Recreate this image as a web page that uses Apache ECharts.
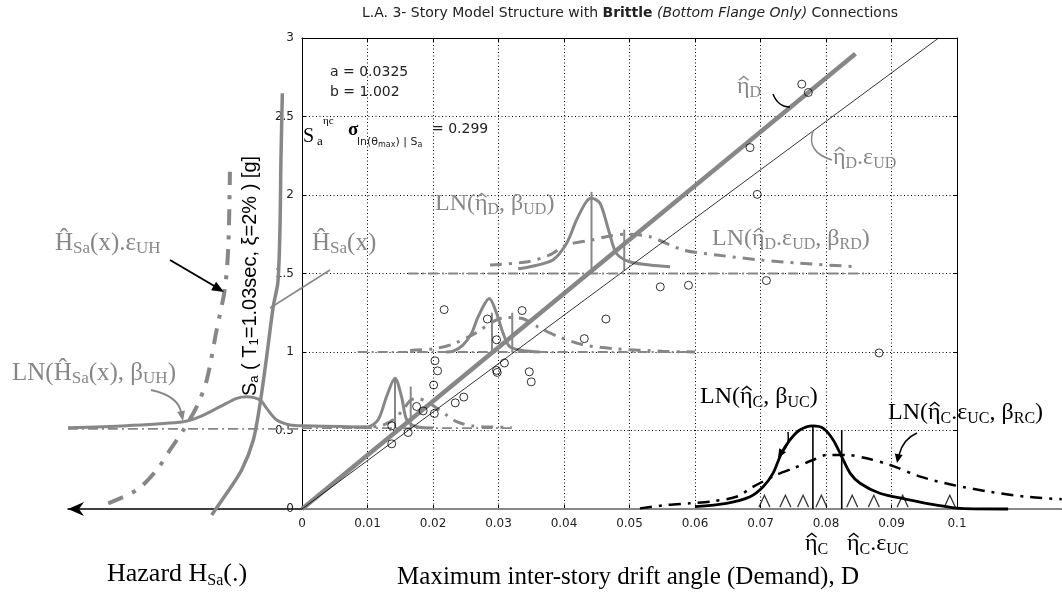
<!DOCTYPE html>
<html>
<head>
<meta charset="utf-8">
<script src="https://cdn.jsdelivr.net/npm/echarts@6/dist/echarts.min.js"></script>
<style>
  html, body { margin: 0; padding: 0; background: #ffffff; }
  #chart { width: 1062px; height: 593px; }
</style>
</head>
<body>
<div id="chart"></div>
<script>
// ---- axis ticks -------------------------------------------------------
const driftTicks = [0, 0.01, 0.02, 0.03, 0.04, 0.05, 0.06, 0.07, 0.08, 0.09, 0.1];
const saTicks = [0, 0.5, 1, 1.5, 2, 2.5, 3];

// ---- demand side: Sa vs. maximum inter-story drift ----------------------
// individual time-history runs [drift, Sa]
const runPoints = [
  [0.0217, 1.27], [0.0283, 1.21], [0.0336, 1.264], [0.0464, 1.21], [0.0297, 1.078],
  [0.0431, 1.085], [0.0203, 0.944], [0.0207, 0.88], [0.0297, 0.883], [0.0298, 0.87],
  [0.0309, 0.93], [0.0347, 0.874], [0.035, 0.81], [0.0201, 0.79], [0.0234, 0.676],
  [0.0247, 0.713], [0.0202, 0.608], [0.0175, 0.653], [0.0185, 0.625], [0.0137, 0.53],
  [0.0162, 0.487], [0.0137, 0.415], [0.0684, 2.302], [0.0695, 2.004], [0.0547, 1.415],
  [0.059, 1.425], [0.0709, 1.455], [0.0763, 2.706], [0.0773, 2.653], [0.0881, 0.994]
];
// median demand line and the line including the epistemic factor
const medianDemand = [[0, 0], [0.0845, 2.9]];
const medianDemandUD = [[0, 0], [0.0972, 3.0]];

// conditional demand distributions at Sa = 0.5, 1.0, 1.5
const baseAt05 = [[0, 0.515], [0.032, 0.515]];
const pdfUD05 = [[0, 0.53], [0.006, 0.525], [0.0099, 0.522], [0.0116, 0.567], [0.0129, 0.715],
  [0.0142, 0.833], [0.0152, 0.715], [0.016, 0.567], [0.0175, 0.524], [0.02, 0.516]];
const pdfRD05 = [[0.008, 0.52], [0.012, 0.53], [0.014, 0.57], [0.0154, 0.63], [0.0165, 0.69],
  [0.0175, 0.705], [0.019, 0.685], [0.0205, 0.645], [0.022, 0.6], [0.0236, 0.556],
  [0.0259, 0.53], [0.029, 0.522], [0.032, 0.52]];

const baseAt10 = [[0.0085, 1.0], [0.06, 1.0]];
const pdfUD10 = [[0.022, 1.0], [0.0231, 1.005], [0.0246, 1.045], [0.0259, 1.12], [0.0269, 1.225],
  [0.0286, 1.34], [0.0297, 1.247], [0.0307, 1.12], [0.0317, 1.034], [0.0337, 1.01], [0.0363, 1.0]];
const pdfRD10 = [[0.0165, 1.01], [0.02, 1.02], [0.023, 1.05], [0.0265, 1.12], [0.029, 1.19],
  [0.031, 1.22], [0.0335, 1.215], [0.036, 1.16], [0.039, 1.1], [0.043, 1.045], [0.048, 1.02],
  [0.055, 1.005], [0.06, 1.0]];

const baseAt15 = [[0.0162, 1.5], [0.0866, 1.5]];
const pdfUD15 = [[0.033, 1.53], [0.0348, 1.543], [0.0383, 1.586], [0.0404, 1.692], [0.0419, 1.84],
  [0.0434, 1.957], [0.0442, 1.979], [0.0455, 1.947], [0.0468, 1.777], [0.048, 1.629],
  [0.05, 1.575], [0.0531, 1.554], [0.0562, 1.543]];
const pdfRD15 = [[0.0287, 1.554], [0.0345, 1.575], [0.0378, 1.618], [0.0404, 1.682], [0.0442, 1.713],
  [0.047, 1.739], [0.0495, 1.75], [0.0531, 1.734], [0.0582, 1.65], [0.0633, 1.618],
  [0.07, 1.586], [0.076, 1.565], [0.0847, 1.543]];

// median marks [drift, Sa from, Sa to]
const demandMedianMarks = [
  [0.0142, 0.515, 0.84], [0.0166, 0.515, 0.78],
  [0.029, 1.0, 1.25], [0.0321, 1.0, 1.25],
  [0.0442, 1.5, 2.02], [0.0492, 1.52, 1.78]
];

// ---- capacity side ----------------------------------------------------
const capacityPoints = [0.0706, 0.0738, 0.0765, 0.0793, 0.084, 0.0873, 0.0917, 0.0989];
const capacityLevel = 0.05;
const pdfUC = [[0.06, 0.015], [0.0648, 0.036], [0.0684, 0.078], [0.0704, 0.142], [0.0719, 0.227],
  [0.0732, 0.355], [0.0745, 0.44], [0.076, 0.503], [0.078, 0.529], [0.0796, 0.514],
  [0.0811, 0.44], [0.0824, 0.333], [0.0837, 0.227], [0.0852, 0.164], [0.0882, 0.1],
  [0.0923, 0.062], [0.0969, 0.025], [0.1005, 0.004], [0.1078, 0]];
const pdfRC = [[0.0516, 0.004], [0.0556, 0.025], [0.0592, 0.036], [0.0623, 0.047], [0.0663, 0.078],
  [0.0689, 0.142], [0.0724, 0.217], [0.075, 0.259], [0.078, 0.312], [0.0801, 0.344],
  [0.0831, 0.344], [0.0862, 0.323], [0.0898, 0.28], [0.0944, 0.206], [0.0994, 0.153],
  [0.105, 0.11], [0.1106, 0.078], [0.116, 0.062]];
const capacityMedianMarks = [[0.078, 0, 0.53], [0.0824, 0, 0.503]];
const driftBaseline = [[0, 0], [0.116, 0]];

// ---- hazard side [hazard (arbitrary units, grows to the left), Sa] -----
const hazardMedian = [[0.386, -0.038], [0.322, 0.1], [0.258, 0.248], [0.208, 0.44], [0.179, 0.673],
  [0.151, 0.97], [0.123, 1.289], [0.103, 1.446], [0.094, 1.798], [0.09, 2.223], [0.084, 2.648]];
const hazardUH = [[0.828, 0.036], [0.706, 0.121], [0.621, 0.248], [0.564, 0.376], [0.507, 0.503],
  [0.45, 0.652], [0.407, 0.822], [0.365, 1.14], [0.33, 1.4], [0.315, 1.67], [0.308, 2.148]];
const hazardPdf = [[1.0, 0.518], [0.75, 0.531], [0.507, 0.556], [0.436, 0.588], [0.35, 0.652],
  [0.279, 0.705], [0.236, 0.715], [0.179, 0.694], [0.151, 0.641], [0.108, 0.567],
  [0.051, 0.535], [0, 0.53]];
const hazardBase = [[1.0, 0.51], [0, 0.51]];

// ---- layout -------------------------------------------------------------
const PLOT = { left: 302, top: 38, width: 655, height: 471 };   // boxed drift/Sa frame
const FULL_W = 760;                                              // drift axis runs on to the page edge
const driftMax = driftTicks[driftTicks.length - 1];
const driftMaxFull = driftMax * FULL_W / PLOT.width;

// ---- styling helpers --------------------------------------------------
const GRAY = '#878787';
const SERIF = '"Liberation Serif", "DejaVu Serif", serif';
const SANS = '"Liberation Sans", Arial, sans-serif';
const WIDE_SANS = '"DejaVu Sans", "Liberation Sans", sans-serif';
const DASHDOT = [12, 7, 3, 7];

function curve(data, color, width, type, z, extra) {
  return Object.assign({
    type: 'line', data, symbol: 'none', showSymbol: false, clip: false, silent: true,
    smooth: 0.3, lineStyle: { color, width, type: type || 'solid' }, z: z || 4,
    animation: false
  }, extra || {});
}
function hazardCurve(data, color, width, type, z) {
  return curve(data, color, width, type, z, { xAxisIndex: 1, yAxisIndex: 1 });
}
function markLines(marks, color, width) {
  return marks.map(m => curve([[m[0], m[1]], [m[0], m[2]]], color, width, 'solid', 5, { smooth: false }));
}

// rich text with subscripts: plain strings are normal, [str] is a subscript
function richLabel(parts, size, sub, color, family) {
  const lh = Math.round(size * 1.2);
  const pad = Math.round(lh / 2 + 0.47 * size - 0.84 * sub);
  const rich = {
    n: { fontFamily: family, fontSize: size, lineHeight: lh, fill: color, verticalAlign: 'middle' },
    s: { fontFamily: family, fontSize: sub, lineHeight: sub, fill: color, verticalAlign: 'top', padding: [pad, 0, 0, 0] }
  };
  const text = parts.map(p => Array.isArray(p) ? '{s|' + p[0] + '}' : '{n|' + p + '}').join('');
  return { text, rich };
}
function textEl(x, y, lbl, extra) {
  return Object.assign({
    type: 'text', x, y, z: 100, silent: true,
    style: { text: lbl.text, rich: lbl.rich, align: 'left', verticalAlign: 'middle' }
  }, extra || {});
}

const measureCtx = document.createElement('canvas').getContext('2d');
function textWidth(str, size, family) {
  measureCtx.font = size + 'px ' + family;
  return measureCtx.measureText(str).width;
}
// serif annotation; {hat: 'η'} marks a glyph that carries a circumflex
function annot(x, y, parts, size, sub, color) {
  const flat = parts.map(p => (p && p.hat) ? p.hat : p);
  const els = [textEl(x, y, richLabel(flat, size, sub, color, SERIF))];
  let cx = x;
  parts.forEach(p => {
    if (Array.isArray(p)) { cx += textWidth(p[0], sub, SERIF); return; }
    const s = p.hat || p;
    const w = textWidth(s, size, SERIF);
    if (p.hat) {
      const mx = cx + w / 2 + size * 0.02;
      const top = y + 0.34 * size - 0.78 * size;
      els.push({ type: 'polyline', z: 100, silent: true,
        shape: { points: [[mx - 0.2 * size, top + 0.16 * size], [mx, top], [mx + 0.2 * size, top + 0.16 * size]] },
        style: { stroke: color, lineWidth: 1.3, fill: null } });
    }
    cx += w;
  });
  return els;
}
function plainText(x, y, text, font, color, align) {
  return { type: 'text', x, y, z: 100, silent: true,
    style: { text, font, fill: color || '#000', align: align || 'left', verticalAlign: 'middle' } };
}
function head(x, y, dx, dy, color, len, half) {
  const l = Math.hypot(dx, dy), ux = dx / l, uy = dy / l;
  len = len || 10; half = half || 4;
  const bx = x - ux * len, by = y - uy * len;
  return { type: 'polygon', z: 100, silent: true,
    shape: { points: [[x, y], [bx - uy * half, by + ux * half], [bx + uy * half, by - ux * half]] },
    style: { fill: color } };
}
function bez(x1, y1, cx, cy, x2, y2, color, w) {
  return { type: 'bezierCurve', z: 100, silent: true,
    shape: { x1, y1, cpx1: cx, cpy1: cy, x2, y2 },
    style: { stroke: color, lineWidth: w || 1.5, fill: null } };
}
function seg(x1, y1, x2, y2, color, w) {
  return { type: 'line', z: 100, silent: true, shape: { x1, y1, x2, y2 },
    style: { stroke: color, lineWidth: w || 1.5 } };
}

const ETA = { hat: 'η' };
const GS = 24, GSUB = 16;     // demand / capacity annotations
const HS = 25, HSUB = 17;     // hazard annotations

const chart = echarts.init(document.getElementById('chart'), null, { renderer: 'canvas' });

const tickFmt = v => (v > driftMax + 1e-9 ? '' : (Math.abs(v) < 1e-9 ? '0' : String(+v.toFixed(2))));
const axisLabelStyle = { fontFamily: WIDE_SANS, fontSize: 12, color: '#222' };
const blackLine = { show: true, onZero: false, lineStyle: { color: '#000', width: 1 } };
const inTicks = { show: true, inside: true, length: 4, lineStyle: { color: '#000' } };
const dotted = { show: true, lineStyle: { color: '#000', width: 1, type: [1, 2.5] } };
const saRange = { min: saTicks[0], max: saTicks[saTicks.length - 1], interval: saTicks[1] - saTicks[0] };
const driftRange = { min: driftTicks[0], max: driftMax, interval: driftTicks[1] - driftTicks[0] };

const option = {
  backgroundColor: '#ffffff',
  animation: false,
  grid: [
    { left: PLOT.left, top: PLOT.top, width: FULL_W, height: PLOT.height },
    { left: 68, top: PLOT.top, width: PLOT.left - 68, height: PLOT.height },
    { left: PLOT.left, top: PLOT.top, width: PLOT.width, height: PLOT.height }
  ],
  xAxis: [
    // drift axis carrying the data, extended to the page edge
    Object.assign({ gridIndex: 0, type: 'value', position: 'bottom' }, driftRange, {
      max: driftMaxFull,
      axisLine: blackLine,
      axisTick: Object.assign({ customValues: driftTicks }, inTicks),
      axisLabel: Object.assign({ margin: 9, formatter: tickFmt, customValues: driftTicks }, axisLabelStyle),
      splitLine: { show: false } }),
    // hazard axis (grows to the left)
    { gridIndex: 1, type: 'value', inverse: true, min: 0, max: 1,
      axisLine: { show: true, onZero: false, lineStyle: { color: '#000', width: 1.5 } },
      axisTick: { show: false }, axisLabel: { show: false }, splitLine: { show: false } },
    // framed box: vertical grid lines and top border
    Object.assign({ gridIndex: 2, type: 'value', position: 'bottom' }, driftRange, {
      axisLine: { show: false }, axisTick: { show: false }, axisLabel: { show: false },
      splitLine: dotted }),
    Object.assign({ gridIndex: 2, type: 'value', position: 'top' }, driftRange, {
      axisLine: blackLine, axisTick: inTicks, axisLabel: { show: false }, splitLine: { show: false } })
  ],
  yAxis: [
    Object.assign({ gridIndex: 0, type: 'value', position: 'left' }, saRange, {
      axisLine: blackLine, axisTick: inTicks,
      axisLabel: Object.assign({ margin: 8, formatter: v => String(v) }, axisLabelStyle),
      splitLine: { show: false } }),
    Object.assign({ gridIndex: 1, type: 'value', show: false }, saRange),
    Object.assign({ gridIndex: 2, type: 'value', position: 'left' }, saRange, {
      axisLine: { show: false }, axisTick: { show: false }, axisLabel: { show: false },
      splitLine: dotted }),
    Object.assign({ gridIndex: 2, type: 'value', position: 'right' }, saRange, {
      axisLine: blackLine, axisTick: inTicks, axisLabel: { show: false }, splitLine: { show: false } })
  ],
  series: [
    // drift axis baseline
    curve(driftBaseline, GRAY, 2, 'solid', 3, { smooth: false }),
    // demand distributions
    curve(baseAt05, GRAY, 1.8, [10, 4, 2, 4], 3, { smooth: false }),
    curve(baseAt10, GRAY, 1.8, [10, 4, 2, 4], 3, { smooth: false }),
    curve(baseAt15, GRAY, 1.8, [10, 4, 2, 4], 3, { smooth: false }),
    curve(pdfRD05, GRAY, 3, DASHDOT, 4),
    curve(pdfRD10, GRAY, 3, DASHDOT, 4),
    curve(pdfRD15, GRAY, 3, DASHDOT, 4),
    curve(pdfUD05, GRAY, 3, 'solid', 4),
    curve(pdfUD10, GRAY, 3, 'solid', 4),
    curve(pdfUD15, GRAY, 3, 'solid', 4),
    ...markLines(demandMedianMarks, GRAY, 2),
    // median demand lines
    curve(medianDemand, GRAY, 4.5, 'solid', 5, { smooth: false }),
    curve(medianDemandUD, '#000', 0.8, 'solid', 5, { smooth: false }),
    // capacity distributions
    curve(pdfRC, '#000', 2.5, DASHDOT, 4),
    curve(pdfUC, '#000', 2.8, 'solid', 4),
    ...markLines(capacityMedianMarks, '#000', 1.6),
    { type: 'scatter', data: capacityPoints.map(x => [x, capacityLevel]), silent: true, z: 6,
      symbol: 'path://M0,12 L5,0 L10,12', symbolSize: [11, 12],
      itemStyle: { color: 'rgba(0,0,0,0)', borderColor: '#000', borderWidth: 1.3 }, clip: false },
    // runs
    { type: 'scatter', data: runPoints, silent: true, z: 6, symbol: 'circle', symbolSize: 8,
      itemStyle: { color: 'rgba(255,255,255,0)', borderColor: '#000', borderWidth: 1 } },
    // hazard side
    hazardCurve(hazardBase, GRAY, 1.8, [10, 4, 2, 4], 3),
    hazardCurve(hazardPdf, GRAY, 3, 'solid', 4),
    hazardCurve(hazardUH, GRAY, 4, [16, 10, 4, 10], 4),
    hazardCurve(hazardMedian, GRAY, 3.5, 'solid', 5)
  ],
  graphic: [
    // title
    { type: 'text', x: 630, y: 13, z: 100, silent: true,
      style: {
        text: '{a|L.A. 3- Story Model Structure with }{b|Brittle}{i| (Bottom Flange Only)}{a| Connections}',
        align: 'center', verticalAlign: 'middle',
        rich: {
          a: { fontFamily: WIDE_SANS, fontSize: 14, fill: '#222' },
          b: { fontFamily: WIDE_SANS, fontSize: 14, fontWeight: 'bold', fill: '#222' },
          i: { fontFamily: WIDE_SANS, fontSize: 14, fontStyle: 'italic', fill: '#222' }
        } } },
    // regression parameters
    plainText(330, 72, 'a = 0.0325', '14px ' + WIDE_SANS, '#222'),
    plainText(330, 92, 'b = 1.002', '14px ' + WIDE_SANS, '#222'),
    plainText(303, 137, 'S', '20px ' + SERIF, '#000'),
    plainText(317, 142, 'a', '13px ' + SERIF, '#000'),
    plainText(323, 121, 'ηc', '11px ' + SERIF, '#000'),
    plainText(348, 130, 'σ', 'bold 19px ' + SERIF, '#000'),
    textEl(357, 142, richLabel(['ln(θ', ['max'], ') | S', ['a']], 11, 8, '#222', WIDE_SANS)),
    plainText(432, 129, '= 0.299', '14px ' + WIDE_SANS, '#222'),
    // vertical axis title
    { type: 'text', x: 250, y: 276, rotation: Math.PI / 2, z: 100, silent: true,
      style: Object.assign({ align: 'center', verticalAlign: 'middle' },
        richLabel(['S', ['a'], ' ( T', ['1'], '=1.03sec, ξ=2% ) [g]'], 20, 13, '#000', SANS)) },
    // demand annotations
    ...annot(737, 87, [ETA, ['D']], GS, GSUB, GRAY),
    bez(773, 94, 778, 107, 790, 107, '#000', 1.5),
    ...annot(833, 158, [ETA, ['D'], '.ε', ['UD']], GS, GSUB, GRAY),
    bez(813, 131, 806, 152, 832, 160, GRAY, 1.5),
    ...annot(435, 204, ['LN(', ETA, ['D'], ', β', ['UD'], ')'], GS, GSUB, GRAY),
    ...annot(712, 239, ['LN(', ETA, ['D'], '.ε', ['UD'], ', β', ['RD'], ')'], GS, GSUB, GRAY),
    // hazard annotations
    ...annot(312, 243, ['Ĥ', ['Sa'], '(x)'], HS, HSUB, GRAY),
    seg(270, 308, 330, 270, GRAY, 1.5),
    ...annot(55, 243, ['Ĥ', ['Sa'], '(x).ε', ['UH']], HS, HSUB, GRAY),
    seg(170, 260, 216, 287, '#000', 2),
    head(224, 292, 52, 30, '#000', 12, 5),
    ...annot(12, 373, ['LN(Ĥ', ['Sa'], '(x), β', ['UH'], ')'], HS, HSUB, GRAY),
    bez(151, 390, 178, 396, 181, 412, GRAY, 1.8),
    head(183, 421, 1, 5, GRAY, 10, 4),
    // hazard axis arrow head
    { type: 'polygon', z: 100, silent: true,
      shape: { points: [[68, 509], [84, 502], [79, 509], [84, 516]] }, style: { fill: '#000' } },
    // capacity annotations
    ...annot(700, 397, ['LN(', ETA, ['C'], ', β', ['UC'], ')'], GS, GSUB, '#000'),
    bez(788, 432, 790, 446, 782, 452, '#000', 1.5),
    head(778, 458, -3, 5, '#000', 9, 4),
    ...annot(888, 413, ['LN(', ETA, ['C'], '.ε', ['UC'], ', β', ['RC'], ')'], GS, GSUB, '#000'),
    bez(917, 433, 903, 439, 899, 455, '#000', 1.5),
    head(897, 463, -1, 5, '#000', 9, 4),
    ...annot(805, 544, [ETA, ['C']], GS, GSUB, '#000'),
    ...annot(847, 544, [ETA, ['C'], '.ε', ['UC']], GS, GSUB, '#000'),
    // axis captions
    textEl(107, 574, richLabel(['Hazard H', ['Sa'], '(.)'], 26, 16, '#000', SERIF)),
    plainText(628, 577, 'Maximum inter-story drift angle (Demand), D', '25px ' + SERIF, '#000', 'center')
  ]
};

chart.setOption(option);
</script>
</body>
</html>
